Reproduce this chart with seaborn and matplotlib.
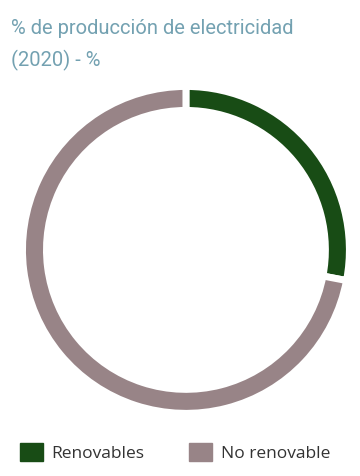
import matplotlib
matplotlib.use("Agg")
import matplotlib.pyplot as plt
import matplotlib.patches as mpatches
import seaborn as sns

labels = ["Renovables", "No renovable"]
values = [28, 72]
colors = ["#184c15", "#988487"]
title = "% de producción de electricidad\n(2020) - %"

sns.set_theme(style="white")
plt.rcParams['font.family'] = ['Roboto', 'DejaVu Sans']

fig = plt.figure(figsize=(3.6, 4.76), dpi=100)
ax = fig.add_axes([0.072, 0.139, 0.889, 0.672])

# white edges make the small gaps between slices
ax.pie(values,
       colors=colors,
       startangle=90,
       counterclock=False,
       radius=1.022,
       wedgeprops=dict(width=0.15, edgecolor="white", linewidth=5))
ax.set(xlim=(-1, 1), ylim=(-1, 1), aspect="equal")
ax.axis("off")

fig.text(0.03, 0.96, title, ha="left", va="top", fontsize=14.5,
         color="#73a1b1", linespacing=1.75)

handles = [mpatches.Patch(facecolor=c, edgecolor=c, label=l)
           for c, l in zip(colors, labels)]
leg = fig.legend(handles=handles, loc="center left", ncol=2,
                 bbox_to_anchor=(0.012, 0.05), frameon=False,
                 handlelength=1.3, handleheight=1.3, columnspacing=2.6,
                 handletextpad=0.5,
                 prop={'family': ['Open Sans', 'DejaVu Sans'], 'size': 12.5})
for t in leg.get_texts():
    t.set_color("#333333")

fig.savefig("out.png", dpi=100)
